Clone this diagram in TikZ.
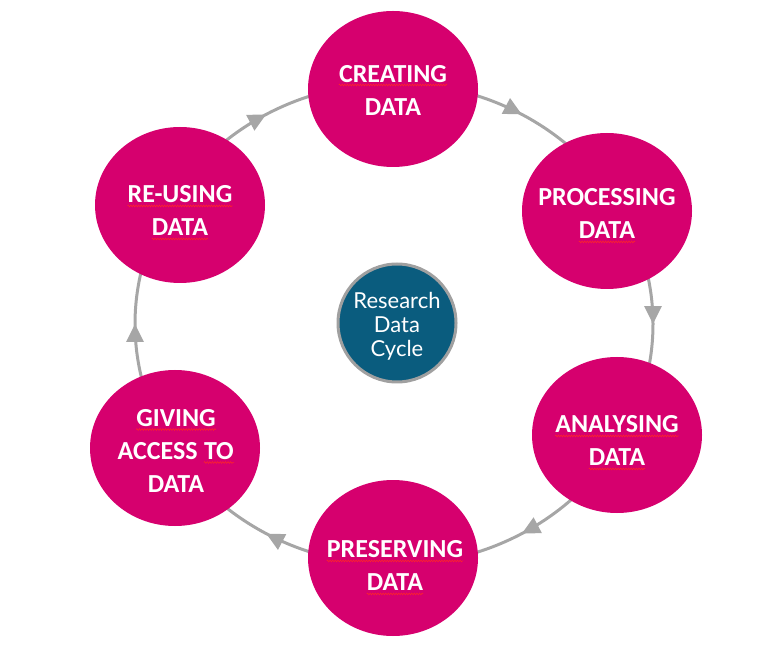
\documentclass[tikz,border=0pt]{standalone}
\usepackage{fontspec}
\setmainfont{Carlito}
\newfontfamily\latofont{Lato}
\usetikzlibrary{shapes.geometric,arrows.meta,decorations.markings,decorations.pathmorphing}
\definecolor{mag}{RGB}{214,0,110}
\definecolor{cyteal}{RGB}{10,92,126}
\definecolor{ringgray}{RGB}{166,166,166}
\definecolor{hubgray}{RGB}{160,160,160}
\newcommand\squig[1]{\tikz[baseline=(sqw.base)]{\node[inner sep=0pt, text=white] (sqw) {#1};
  \draw[red!85!white, line width=0.5pt, decorate, decoration={snake, amplitude=0.9pt, segment length=2.6pt}]
    ([yshift=-3pt]sqw.base west) -- ([yshift=-3pt]sqw.base east);}}
\begin{document}
\begin{tikzpicture}[x=1pt,y=1pt,
  stage/.style={ellipse, fill=mag, minimum width=170pt, minimum height=156pt, inner sep=0pt},
  stagetext/.style={text=white, font=\bfseries\fontsize{26}{33}\selectfont, align=center, inner sep=0pt},
  ring/.style={color=ringgray, line width=3pt, postaction={decorate},
    decoration={markings, mark=at position 0.5 with {\arrow{Triangle[length=18pt,width=17pt]}}}}
]
\useasboundingbox (0,0) rectangle (757,659);
\coordinate (O) at (394,335);
\foreach \a/\b in {90/30, 30/-30, -30/-90, -90/-150, -150/-210, 150/90}
  \draw[ring] (O) ++(\a:259pt and 241pt) arc[start angle=\a, end angle=\b, x radius=259pt, y radius=241pt];

\node[stage] (create) at (393,570) {};
\node[stagetext] (createT) at (393,569) {\squig{CREATING}\\DATA};
\node[stage] (process) at (607,448) {};
\node[stagetext] (processT) at (607,443) {PROCESSING\\\squig{DATA}};
\node[stage] (analyse) at (617,224) {};
\node[stagetext] (analyseT) at (617,216) {\squig{ANALYSING}\\\squig{DATA}};
\node[stage] (preserve) at (393,101) {};
\node[stagetext] (preserveT) at (395,91) {\squig{PRESERVING}\\\squig{DATA}};
\node[stage] (give) at (175,211) {};
\node[stagetext] (giveT) at (176,208) {\squig{GIVING}\\ACCESS \squig{TO}\\DATA};
\node[stage] (reuse) at (180,454) {};
\node[stagetext] (reuseT) at (180,446) {\squig{RE-USING}\\\squig{DATA}};

\node[circle, fill=cyteal, draw=hubgray, line width=3pt, minimum size=118pt, inner sep=0pt] (hub) at (397,336) {};
\node[text=white, font=\latofont\fontsize{22}{24}\selectfont, align=center, inner sep=0pt] (hubT) at (397,332.5) {Research\\Data\\Cycle};
\end{tikzpicture}
\end{document}
